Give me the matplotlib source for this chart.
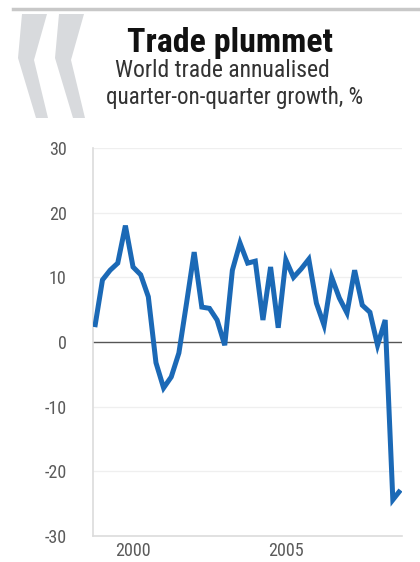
import matplotlib
matplotlib.use("Agg")
import matplotlib.pyplot as plt
from matplotlib.patches import Polygon
import numpy as np

# ---- data ----
start_year = 1998.75          # first quarter plotted (1998 Q4)
growth = [2.3, 9.6, 11.1, 12.2, 18.0, 11.6, 10.4, 7.0, -3.2, -7.1,
          -5.4, -1.7, 6.0, 13.9, 5.4, 5.2, 3.4, -0.5, 11.1, 15.3,
          12.2, 12.5, 3.4, 11.6, 2.2, 12.7, 10.0, 11.3, 12.8, 6.0,
          2.6, 10.0, 6.8, 4.5, 11.1, 5.7, 4.6, -0.5, 3.4, -24.4, -22.9]
x_ticks = [2000, 2005]
x_tick_labels = ["2000", "2005"]
y_ticks = [-30, -20, -10, 0, 10, 20, 30]
y_tick_labels = ["-30", "-20", "-10", "0", "10", "20", "30"]
title = "Trade plummet"
subtitle1 = "World trade annualised"
subtitle2 = "quarter-on-quarter growth, %"

quarters = start_year + 0.25 * np.arange(len(growth))

FONT = ["Roboto Condensed", "DejaVu Sans"]
plt.rcParams['font.family'] = FONT

W, H = 420, 562
fig = plt.figure(figsize=(W / 100, H / 100), dpi=100)
fig.patch.set_facecolor("white")

ax = fig.add_axes([93 / W, 1 - 536 / H, (402 - 93) / W, (536 - 148) / H])
ax.plot(quarters, growth, color="#1b69b6", lw=3.6, solid_joinstyle="miter",
        solid_capstyle="butt", zorder=3)
ax.axhline(0, color="#555555", lw=1.0, zorder=2)
for v in y_ticks:
    if v not in (0, -30):
        ax.axhline(v, color="#efefef", lw=0.9, zorder=1)

ax.set_xlim(1998.69, 2008.8)
ax.set_ylim(-30, 30)
ax.set_xticks(x_ticks)
ax.set_xticklabels(x_tick_labels)
ax.set_yticks(y_ticks)
ax.set_yticklabels(y_tick_labels)
ax.tick_params(axis="both", length=0, labelsize=13, labelcolor="#5a5a5a")
ax.tick_params(axis="y", pad=19)
ax.tick_params(axis="x", pad=4)
for s in ("top", "right"):
    ax.spines[s].set_visible(False)
for s in ("left", "bottom"):
    ax.spines[s].set_color("#dcdcdc")
    ax.spines[s].set_linewidth(1.2)

# ---- header ----
fig.add_artist(plt.Line2D([13 / W, 1.0], [1 - 9 / H, 1 - 9 / H],
                          color="#c8c8c8", lw=2.5))

def px(x, y):
    return (x / W, 1 - y / H)

for dx in (0, 37):
    pts = [px(22 + dx, 14), px(47 + dx, 14), px(34 + dx, 60),
           px(48 + dx, 118), px(36 + dx, 118), px(18 + dx, 58)]
    fig.add_artist(Polygon(pts, closed=True, transform=fig.transFigure,
                           facecolor="#d8dadd", edgecolor="none"))

fig.text(230 / W, 1 - 52 / H, title, ha="center", va="baseline",
         fontsize=24.5, fontweight="bold", color="#111111")
fig.text(222 / W, 1 - 77 / H, subtitle1, ha="center", va="baseline",
         fontsize=17, color="#333333")
fig.text(235 / W, 1 - 104 / H, subtitle2, ha="center", va="baseline",
         fontsize=16.6, color="#333333")

fig.savefig("out.png", dpi=100)
